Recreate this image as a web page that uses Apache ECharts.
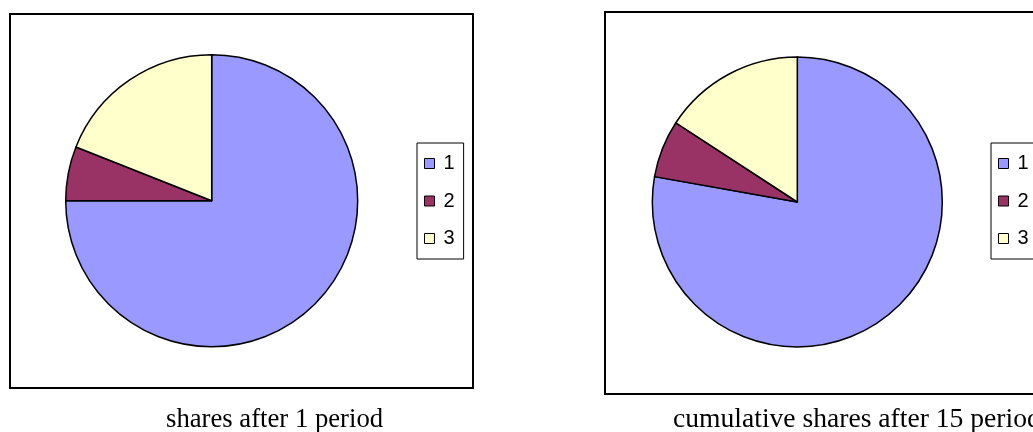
<!DOCTYPE html>
<html>
<head>
<meta charset="utf-8">
<script src="https://cdn.jsdelivr.net/npm/echarts@6/dist/echarts.min.js"></script>
<style>
html,body{margin:0;padding:0;background:#fff;}
#chart{width:1033px;height:432px;}
</style>
</head>
<body>
<div id="chart"></div>
<script>
// ---- data ----
const categories = ['1', '2', '3'];
const sharesAfter1Period = [75, 6, 19];
const cumulativeSharesAfter15 = [77.8, 6.4, 15.8];
const titles = ['shares after 1 period', 'cumulative shares after 15 periods'];
const sliceColors = ['#9999FF', '#993366', '#FFFFCC'];

function toPieData(values) {
  return categories.map((c, i) => ({ name: c, value: values[i] }));
}

const legendBase = {
  orient: 'vertical',
  data: categories,
  icon: 'rect',
  itemWidth: 10,
  itemHeight: 10,
  itemGap: 17.5,
  padding: [10.5, 9, 10.5, 7],
  borderColor: '#000',
  borderWidth: 1,
  backgroundColor: '#fff',
  selectedMode: false,
  itemStyle: { borderColor: '#000', borderWidth: 1 },
  textStyle: {
    fontFamily: 'Liberation Sans, Arial, sans-serif',
    fontSize: 20,
    lineHeight: 20,
    color: '#000',
    padding: [0, 0, 0, 4]
  }
};

const pieBase = {
  type: 'pie',
  startAngle: 90,
  clockwise: true,
  label: { show: false },
  labelLine: { show: false },
  emphasis: { disabled: true },
  silent: true,
  itemStyle: { borderColor: '#000', borderWidth: 1.5 }
};

const titleStyle = { fontFamily: 'Liberation Serif, Times New Roman, serif', fontSize: 26.7, fontWeight: 'normal', color: '#000' };
const titleStyle2 = Object.assign({}, titleStyle, { fontSize: 27.6 });

const chart = echarts.init(document.getElementById('chart'), null, { renderer: 'canvas' });
chart.setOption({
  animation: false,
  color: sliceColors,
  title: [
    { text: titles[0], left: 166, top: 406, padding: 0, textStyle: titleStyle },
    { text: titles[1], left: 673, top: 405.5, padding: 0, textStyle: titleStyle2 }
  ],
  graphic: [
    { type: 'rect', shape: { x: 10, y: 14, width: 463, height: 374 }, style: { fill: 'none', stroke: '#000', lineWidth: 2 }, z: -1 },
    { type: 'rect', shape: { x: 605, y: 12, width: 500, height: 382 }, style: { fill: 'none', stroke: '#000', lineWidth: 2 }, z: -1 }
  ],
  legend: [
    Object.assign({}, legendBase, { left: 417, top: 143 }),
    Object.assign({}, legendBase, { left: 991, top: 143 })
  ],
  series: [
    Object.assign({}, pieBase, { name: 'after1', center: [211.7, 200.7], radius: 146, data: toPieData(sharesAfter1Period) }),
    Object.assign({}, pieBase, { name: 'after15', center: [797.3, 202], radius: 145, data: toPieData(cumulativeSharesAfter15) })
  ]
});
</script>
</body>
</html>
